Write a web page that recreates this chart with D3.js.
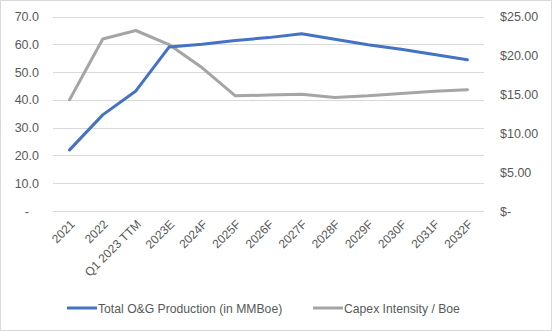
<!DOCTYPE html>
<html><head><meta charset="utf-8">
<script src="https://cdn.jsdelivr.net/npm/d3@7"></script>
<style>body{margin:0;background:#fff}svg{display:block}</style>
</head><body><svg id="c" width="552" height="331"></svg>
<script>
const categories = ["2021","2022","Q1 2023 TTM","2023E","2024F","2025F","2026F","2027F","2028F","2029F","2030F","2031F","2032F"];
const production = [22.0,34.6,43.2,59.0,60.0,61.4,62.4,63.8,61.8,59.8,58.2,56.3,54.4];
const capexIntensity = [14.3,22.1,23.2,21.4,18.4,14.8,14.9,15.0,14.6,14.8,15.1,15.4,15.6];
const leftTicks = [0,10,20,30,40,50,60,70];
const rightTicks = [0,5,10,15,20,25];
const seriesNames = ["Total O&G Production (in MMBoe)","Capex Intensity / Boe"];

const svg = d3.select("#c");
const font = "'Liberation Sans', Arial, sans-serif";
svg.append("rect").attr("x",0.5).attr("y",0.5).attr("width",551).attr("height",330)
  .attr("fill","#fff").attr("stroke","#d9d9d9");

const x = d3.scaleBand().domain(categories).range([53,484]);
const yL = d3.scaleLinear().domain([0,70]).range([211,16.5]);
const yR = d3.scaleLinear().domain([0,25]).range([211,16.5]);

const grid = svg.append("g");
grid.selectAll("line").data(leftTicks).join("line")
  .attr("x1",53).attr("x2",484).attr("y1",d=>Math.round(yL(d))+0.5).attr("y2",d=>Math.round(yL(d))+0.5)
  .attr("stroke","#d9d9d9").attr("stroke-width",1);

const axL = d3.axisLeft(yL).tickValues(leftTicks).tickSize(0).tickPadding(0)
  .tickFormat(d=> d===0 ? "-" : d3.format(".1f")(d));
const gL = svg.append("g").attr("transform","translate(39,0)").call(axL);
gL.select(".domain").remove();
gL.selectAll("text").attr("font-family",font).attr("font-size",12.5).attr("fill","#595959")
  .attr("dx", d=> d===0 ? -10 : 0);

const axR = d3.axisRight(yR).tickValues(rightTicks).tickSize(0).tickPadding(0)
  .tickFormat(d=> d===0 ? "$-" : "$"+d3.format(".2f")(d));
const gR = svg.append("g").attr("transform","translate(500,0)").call(axR);
gR.select(".domain").remove();
gR.selectAll("text").attr("font-family",font).attr("font-size",12.5).attr("fill","#595959");

const axB = d3.axisBottom(x).tickSize(0).tickPadding(0);
const gB = svg.append("g").attr("transform","translate(0,211)").call(axB);
gB.select(".domain").remove();
gB.selectAll("text").attr("font-family",font).attr("font-size",12).attr("fill","#595959")
  .attr("text-anchor","end").attr("dy",0).attr("y",0)
  .attr("transform","translate(6,14) rotate(-45)");

const cx = d=> x(d)+x.bandwidth()/2;
const lineL = d3.line().x((d,i)=>cx(categories[i])).y(d=>yL(d));
const lineR = d3.line().x((d,i)=>cx(categories[i])).y(d=>yR(d));
svg.append("path").datum(capexIntensity).attr("d",lineR).attr("fill","none")
  .attr("stroke","#A5A5A5").attr("stroke-width",3).attr("stroke-linejoin","round").attr("stroke-linecap","round");
svg.append("path").datum(production).attr("d",lineL).attr("fill","none")
  .attr("stroke","#4472C4").attr("stroke-width",3).attr("stroke-linejoin","round").attr("stroke-linecap","round");

const leg = [{name:seriesNames[0],color:"#4472C4",x:67},{name:seriesNames[1],color:"#A5A5A5",x:313}];
leg.forEach(l=>{
  svg.append("line").attr("x1",l.x).attr("x2",l.x+30).attr("y1",308).attr("y2",308)
    .attr("stroke",l.color).attr("stroke-width",3);
  svg.append("text").attr("x",l.x+31).attr("y",312.5).text(l.name)
    .attr("font-family",font).attr("font-size",12.2).attr("fill","#595959");
});
</script></body></html>
